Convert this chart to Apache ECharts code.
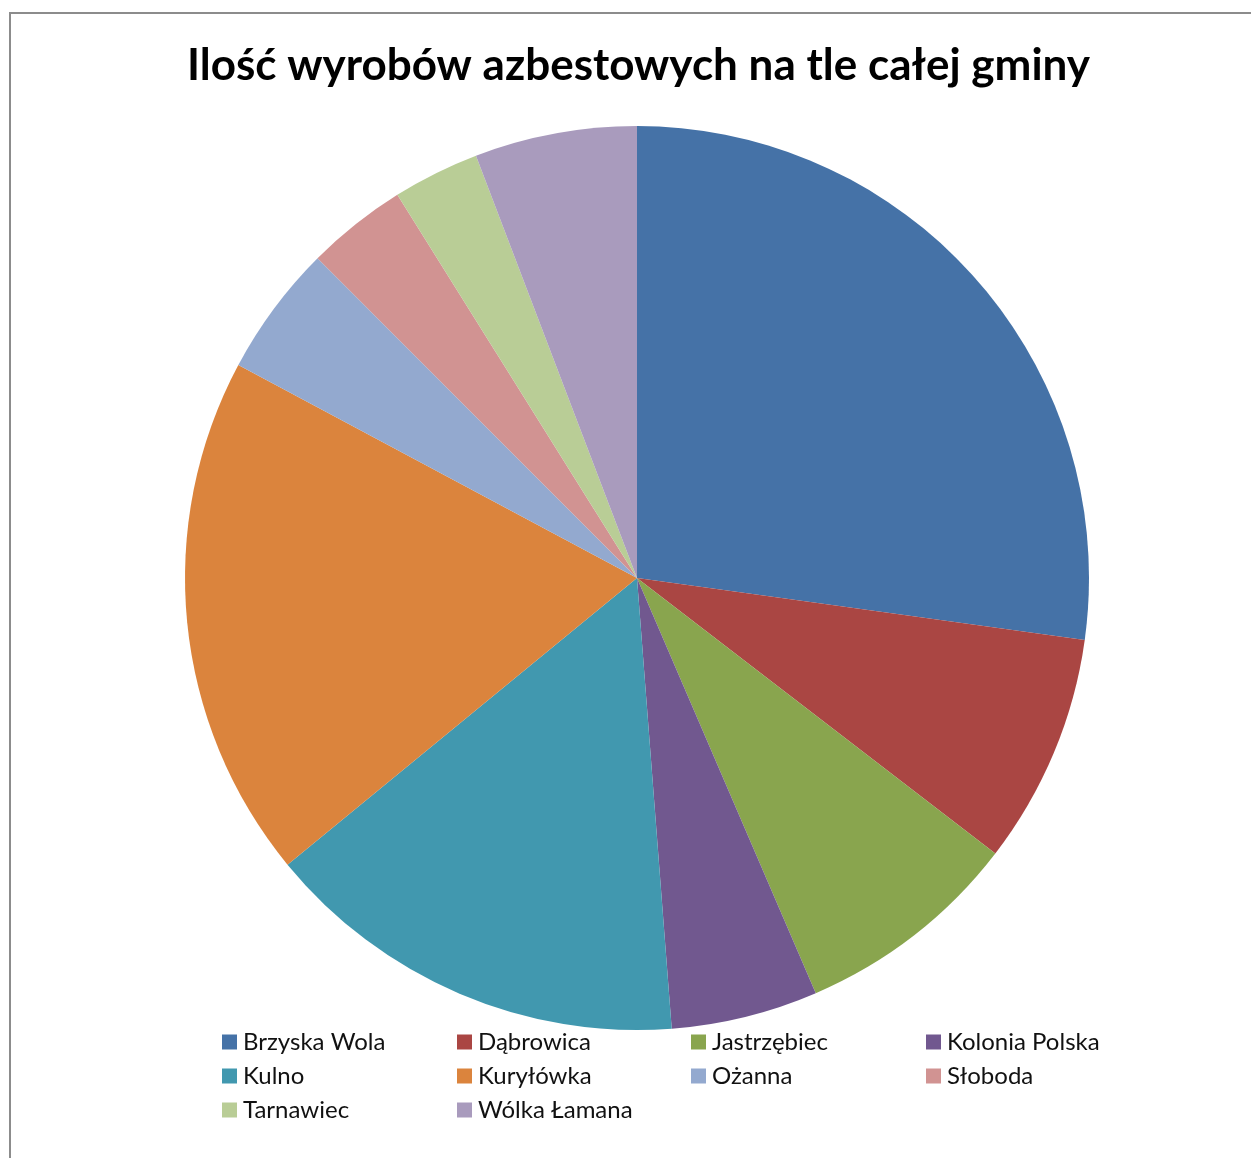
<!DOCTYPE html>
<html>
<head>
<meta charset="utf-8">
<script src="https://cdn.jsdelivr.net/npm/echarts@6/dist/echarts.min.js"></script>
<style>
html,body{margin:0;padding:0;background:#fff;}
#chart{width:1251px;height:1158px;}
</style>
</head>
<body>
<div id="chart"></div>
<script>
const titleText = 'Ilość wyrobów azbestowych na tle całej gminy';
const categories = ['Brzyska Wola','Dąbrowica','Jastrzębiec','Kolonia Polska','Kulno','Kuryłówka','Ożanna','Słoboda','Tarnawiec','Wólka Łamana'];
const values = [27.2, 8.25, 8.1, 5.25, 15.3, 18.75, 4.7, 3.6, 3.1, 5.8];
const colors = ['#4572A7','#AA4643','#89A54E','#71588F','#4198AF','#DB843D','#93A9CF','#D19392','#B9CD96','#A99BBD'];

const chart = echarts.init(document.getElementById('chart'), null, {renderer:'canvas'});
const fontFam = 'Lato, "Open Sans", sans-serif';
const colLefts = [222, 457, 691, 926];
const legends = colLefts.map((x, c) => ({
  data: categories.filter((_, i) => i % 4 === c),
  orient: 'vertical',
  left: x,
  top: 1030,
  padding: 0,
  itemWidth: 15,
  itemHeight: 15,
  itemGap: 10,
  icon: 'rect',
  selectedMode: false,
  textStyle: {fontFamily: fontFam, fontSize: 24, lineHeight: 24, color: '#111', padding: [0,0,0,1]}
}));
chart.setOption({
  animation: false,
  color: colors,
  title: {
    text: titleText,
    left: 182,
    top: 39,
    textStyle: {fontFamily: fontFam, fontWeight: 'bold', fontSize: 44, color: '#000'}
  },
  legend: legends,
  graphic: [{
    type: 'rect',
    shape: {x: 10, y: 13, width: 1300, height: 1300},
    style: {fill: 'none', stroke: '#8c8c8c', lineWidth: 2},
    silent: true
  }],
  series: [{
    type: 'pie',
    center: [637, 578],
    radius: 452,
    startAngle: 90,
    clockwise: true,
    label: {show: false},
    labelLine: {show: false},
    emphasis: {disabled: true},
    itemStyle: {borderWidth: 0},
    data: categories.map((c, i) => ({name: c, value: values[i]}))
  }]
});
</script>
</body>
</html>
